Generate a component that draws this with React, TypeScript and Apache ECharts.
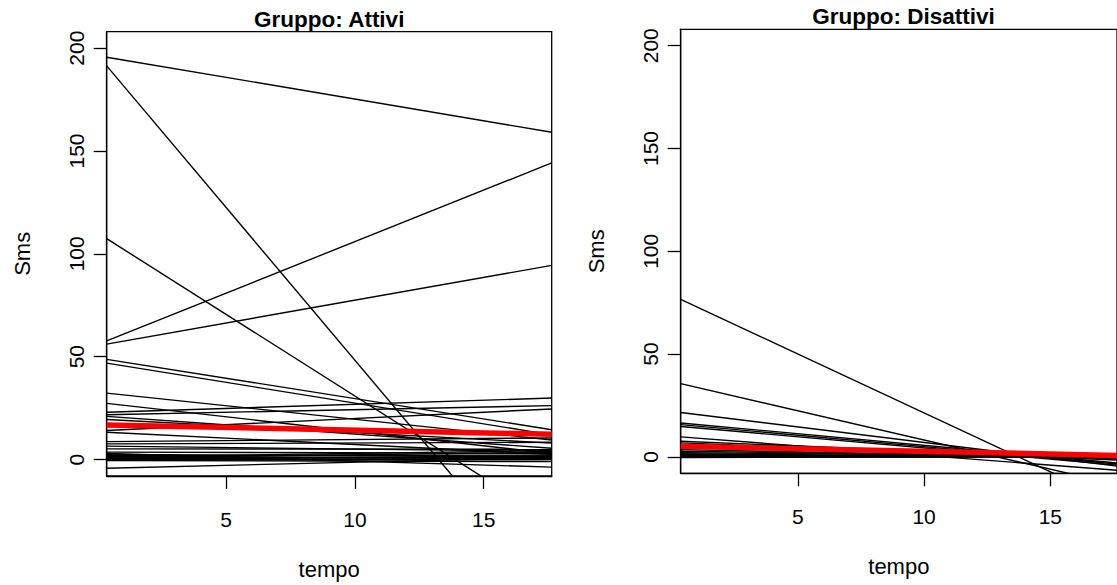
import { useEffect, useRef } from "react";
import * as echarts from "echarts";

// x extent of the plot box (R's 4% extension of 1..17); abline-style lines span it fully
const tempoEdges = [0.36, 17.64];
const xTicks = [5, 10, 15];
const yTicks = [0, 50, 100, 150, 200];
const titles = ["Gruppo: Attivi", "Gruppo: Disattivi"];

// Attivi: fitted value of each subject's line at the left and right edge of the box
const attiviStart = [195.6, 191.4, 107.4, 57.7, 56.1, 48.7, 46.9, 32.3, 27.3, 23.0, 21.8, 21.0, 19.5, 14.1, 13.3, 8.7, 7.6, 6.5, 5.2, 3.6, 2.5, 1.9, 1.5, 1.0, 0.8, 0.5, 0.2, 0.0, -0.3, -0.5, -4.2, 3.0, 1.2];
const attiviEnd = [159.1, -65.2, -29.8, 144.2, 94.4, 14.5, 12.0, 9.5, 3.0, 29.9, 26.2, 5.5, 8.0, 24.6, 2.5, 10.5, 8.4, 4.0, 5.0, 3.0, 1.5, 2.2, 0.5, 1.0, 3.5, 0.0, 1.8, 0.5, 0.0, -1.0, 1.0, -3.7, 4.4];
const attiviMean = [16.8, 12.3];

// Disattivi
const disattiviStart = [76.6, 35.6, 21.6, 16.5, 15.7, 14.8, 9.7, 7.6, 6.8, 4.5, 3.5, 2.7, 2.0, 1.5, 1.0, 0.6, 0.3, 0.0, 0.0, -0.3];
const disattiviEnd = [-22.4, -13.5, -4.5, -3.0, -3.5, -4.0, -6.5, -1.0, -1.5, 0.5, -0.5, 0.0, 0.3, -0.2, 0.0, 0.2, -0.1, 0.0, 0.1, 0.2];
const disattiviMean = [5.2, 0.7];

const FONT = "'Liberation Sans', Arial, Helvetica, sans-serif";

function subjectSeries(starts: number[], ends: number[], mean: number[], idx: number) {
  const s: any[] = starts.map((v, i) => ({
    type: "line",
    xAxisIndex: idx,
    yAxisIndex: idx,
    data: [
      [tempoEdges[0], v],
      [tempoEdges[1], ends[i]],
    ],
    symbol: "none",
    silent: true,
    clip: true,
    lineStyle: { color: "#000000", width: 1.4 },
  }));
  s.push({
    type: "line",
    xAxisIndex: idx,
    yAxisIndex: idx,
    data: [
      [tempoEdges[0], mean[0]],
      [tempoEdges[1], mean[1]],
    ],
    symbol: "none",
    silent: true,
    clip: true,
    z: 5,
    lineStyle: { color: "#ff0000", width: 5.5 },
  });
  return s;
}

function xAxisFor(idx: number) {
  return {
    type: "value",
    gridIndex: idx,
    position: "bottom",
    min: tempoEdges[0],
    max: tempoEdges[1],
    name: "tempo",
    nameLocation: "middle",
    nameGap: 82,
    nameTextStyle: { fontSize: 22, color: "#000", fontFamily: FONT },
    axisLine: { show: true, onZero: false, lineStyle: { color: "#000", width: 1.3 } },
    axisTick: { show: true, length: 13, customValues: xTicks, lineStyle: { color: "#000", width: 1.3 } },
    axisLabel: { customValues: xTicks, margin: 33, fontSize: 21, color: "#000", fontFamily: FONT },
    splitLine: { show: false },
  };
}

function yAxisFor(idx: number) {
  return {
    type: "value",
    gridIndex: idx,
    position: "left",
    min: -8,
    max: 208,
    name: "Sms",
    nameLocation: "middle",
    nameGap: 73,
    nameTextStyle: { fontSize: 22, color: "#000", fontFamily: FONT },
    axisLine: { show: true, onZero: false, lineStyle: { color: "#000", width: 1.3 } },
    axisTick: { show: true, length: 13, customValues: yTicks, lineStyle: { color: "#000", width: 1.3 } },
    axisLabel: { customValues: yTicks, rotate: 90, margin: 20, fontSize: 21, color: "#000", fontFamily: FONT },
    splitLine: { show: false },
  };
}

export default function App() {
  const ref = useRef<HTMLDivElement>(null);
  useEffect(() => {
    if (!ref.current) return;
    const chart = echarts.init(ref.current, undefined, { renderer: "svg" });
    chart.setOption({
      animation: false,
      backgroundColor: "#ffffff",
      title: [
        {
          text: titles[0],
          left: 329.2,
          top: 7.5,
          padding: 0,
          textAlign: "center",
          textVerticalAlign: "top",
          textStyle: { fontSize: 22.5, fontWeight: "bold", color: "#000", fontFamily: FONT },
        },
        {
          text: titles[1],
          left: 903.4,
          top: 5,
          padding: 0,
          textAlign: "center",
          textVerticalAlign: "top",
          textStyle: { fontSize: 22.5, fontWeight: "bold", color: "#000", fontFamily: FONT },
        },
      ],
      grid: [
        { left: 106.7, top: 31.7, width: 445, height: 445, show: true, borderColor: "#000", borderWidth: 1.3, backgroundColor: "transparent", containLabel: false },
        { left: 680.7, top: 29.3, width: 445.3, height: 444, show: true, borderColor: "#000", borderWidth: 1.3, backgroundColor: "transparent", containLabel: false },
      ],
      xAxis: [xAxisFor(0), xAxisFor(1)],
      yAxis: [yAxisFor(0), yAxisFor(1)],
      series: [
        ...subjectSeries(attiviStart, attiviEnd, attiviMean, 0),
        ...subjectSeries(disattiviStart, disattiviEnd, disattiviMean, 1),
      ],
    });
    return () => chart.dispose();
  }, []);
  return (
    <div
      ref={ref}
      style={{ position: "absolute", left: 0, top: 0, width: 1117, height: 585, background: "#fff" }}
    />
  );
}
